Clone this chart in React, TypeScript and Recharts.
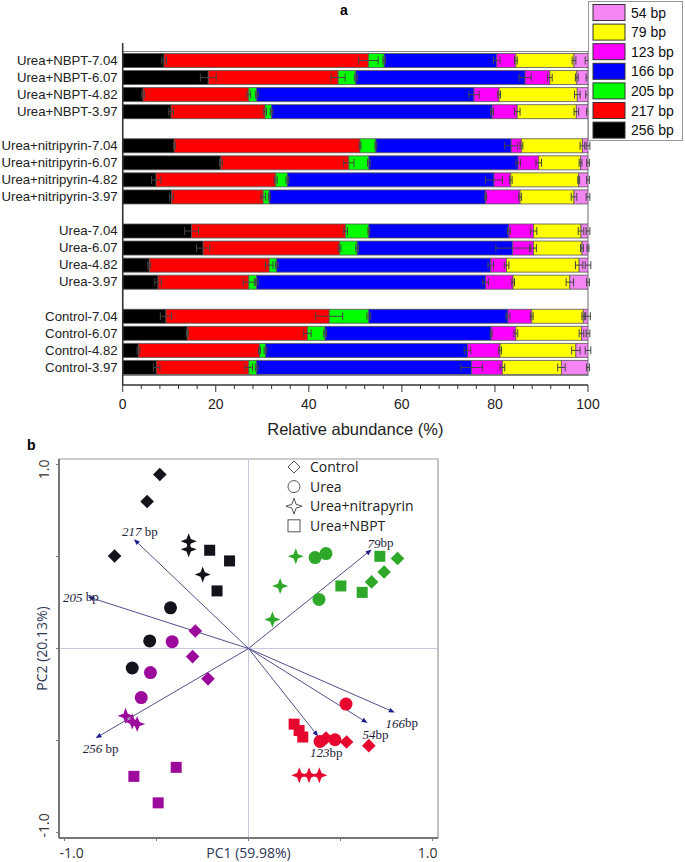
import React from 'react';
import {
  BarChart,
  Bar,
  XAxis,
  YAxis,
  ErrorBar,
  ReferenceArea,
  ReferenceLine,
  ScatterChart,
  Scatter,
} from 'recharts';

// ---------- panel a: relative abundance of T-RFs ----------
const rowLabels = [
  'Urea+NBPT-7.04', 'Urea+NBPT-6.07', 'Urea+NBPT-4.82', 'Urea+NBPT-3.97', ' ',
  'Urea+nitripyrin-7.04', 'Urea+nitripyrin-6.07', 'Urea+nitripyrin-4.82', 'Urea+nitripyrin-3.97', '  ',
  'Urea-7.04', 'Urea-6.07', 'Urea-4.82', 'Urea-3.97', '   ',
  'Control-7.04', 'Control-6.07', 'Control-4.82', 'Control-3.97',
];

const bp256 = [8.9, 18.4, 4.4, 10.4, null, 11.1, 21.1, 7.2, 10.5, null, 14.8, 17.3, 5.7, 7.6, null, 9.3, 13.9, 3.4, 7.3];
const bp217 = [43.9, 27.9, 22.7, 20.2, null, 39.9, 27.5, 25.7, 19.7, null, 33.1, 29.3, 25.8, 19.5, null, 35.1, 25.8, 26.0, 19.8];
const bp205 = [3.4, 3.8, 1.7, 1.4, null, 3.4, 4.3, 2.5, 1.3, null, 5.0, 3.8, 1.6, 1.7, null, 8.5, 3.8, 1.3, 1.7];
const bp166 = [24.2, 36.4, 46.7, 47.4, null, 29.1, 32.1, 44.4, 46.5, null, 30.1, 33.4, 46.0, 49.2, null, 29.9, 35.7, 43.4, 46.2];
const bp123 = [4.1, 5.3, 5.4, 5.4, null, 2.2, 4.4, 3.6, 7.4, null, 5.3, 4.5, 3.4, 5.9, null, 5.1, 5.3, 7.0, 6.6];
const bp79 = [12.5, 5.8, 16.8, 12.7, null, 13.1, 9.0, 14.6, 11.6, null, 10.2, 10.4, 15.6, 12.2, null, 11.1, 14.1, 16.3, 12.7];
const bp54 = [3.0, 2.4, 2.3, 2.5, null, 1.2, 1.6, 2.0, 3.0, null, 1.5, 1.3, 1.9, 3.9, null, 1.0, 1.4, 2.6, 5.7];

// standard deviations
const sd256 = [0.5, 1.7, 0.3, 0.5, null, 0.2, 0.3, 1.0, 0.4, null, 1.5, 1.4, 0.3, 0.7, null, 1.2, 0.2, 0.3, 0.7];
const sd217 = [2.1, 1.5, 0.4, 0.3, null, 0.2, 1.1, 0.3, 0.5, null, 0.4, 0.3, 0.8, 1.2, null, 2.9, 0.8, 0.2, 0.8];
const sd205 = [0.3, 0.3, 0.3, 0.3, null, 0.2, 0.3, 0.3, 0.2, null, 0.2, 0.3, 0.3, 0.3, null, 0.4, 0.3, 0.3, 0.3];
const sd166 = [0.7, 1.3, 1.1, 0.3, null, 1.4, 0.5, 1.8, 0.2, null, 0.3, 3.6, 0.6, 0.6, null, 0.4, 0.2, 0.7, 2.3];
const sd123 = [0.3, 0.5, 0.3, 0.6, null, 0.3, 0.6, 0.3, 0.3, null, 0.7, 0.6, 0.5, 0.3, null, 0.3, 0.4, 0.3, 0.5];
const sd79 = [0.4, 0.3, 0.6, 0.5, null, 0.5, 0.3, 0.2, 0.6, null, 0.6, 0.3, 0.8, 0.8, null, 0.3, 0.5, 0.9, 0.8];
const sd54 = [0.6, 0.4, 0.5, 0.3, null, 0.4, 0.3, 0.3, 0.4, null, 0.4, 0.2, 0.6, 0.3, null, 0.5, 0.4, 0.6, 0.3];

const abundanceTicks = [0, 4, 8, 12, 16, 20, 24, 28, 32, 36, 40, 44, 48, 52, 56, 60, 64, 68, 72, 76, 80, 84, 88, 92, 96, 100];

// stack order, left to right
const fragments = [
  { key: '256', name: '256 bp', values: bp256, sd: sd256, colour: '#000000' },
  { key: '217', name: '217 bp', values: bp217, sd: sd217, colour: '#FF0000' },
  { key: '205', name: '205 bp', values: bp205, sd: sd205, colour: '#00FF00' },
  { key: '166', name: '166 bp', values: bp166, sd: sd166, colour: '#0000FF' },
  { key: '123', name: '123 bp', values: bp123, sd: sd123, colour: '#FF00FF' },
  { key: '79', name: '79 bp', values: bp79, sd: sd79, colour: '#FFFF00' },
  { key: '54', name: '54 bp', values: bp54, sd: sd54, colour: '#F585F5' },
];

const barData = rowLabels.map((name, i) => {
  const row: Record<string, any> = { name };
  fragments.forEach((f) => {
    if (f.values[i] != null) {
      row['v' + f.key] = f.values[i];
      row['e' + f.key] = f.sd[i];
    }
  });
  return row;
});

// ---------- panel b: PCA biplot ----------
const controlPts = [
  { pc1: -0.482, pc2: 0.946, ph: '7.04' }, { pc1: -0.551, pc2: 0.799, ph: '7.04' }, { pc1: -0.728, pc2: 0.503, ph: '7.04' },
  { pc1: -0.289, pc2: 0.095, ph: '6.07' }, { pc1: -0.304, pc2: -0.044, ph: '6.07' }, { pc1: -0.22, pc2: -0.165, ph: '6.07' },
  { pc1: 0.81, pc2: 0.489, ph: '4.82' }, { pc1: 0.737, pc2: 0.416, ph: '4.82' }, { pc1: 0.669, pc2: 0.362, ph: '4.82' },
  { pc1: 0.421, pc2: -0.487, ph: '3.97' }, { pc1: 0.533, pc2: -0.508, ph: '3.97' }, { pc1: 0.654, pc2: -0.528, ph: '3.97' },
];
const ureaPts = [
  { pc1: -0.424, pc2: 0.221, ph: '7.04' }, { pc1: -0.537, pc2: 0.041, ph: '7.04' }, { pc1: -0.632, pc2: -0.106, ph: '7.04' },
  { pc1: -0.415, pc2: 0.037, ph: '6.07' }, { pc1: -0.533, pc2: -0.131, ph: '6.07' }, { pc1: -0.583, pc2: -0.267, ph: '6.07' },
  { pc1: 0.362, pc2: 0.494, ph: '4.82' }, { pc1: 0.421, pc2: 0.516, ph: '4.82' }, { pc1: 0.383, pc2: 0.267, ph: '4.82' },
  { pc1: 0.53, pc2: -0.302, ph: '3.97' }, { pc1: 0.389, pc2: -0.505, ph: '3.97' }, { pc1: 0.47, pc2: -0.496, ph: '3.97' },
];
const nitrapyrinPts = [
  { pc1: -0.325, pc2: 0.583, ph: '7.04' }, { pc1: -0.325, pc2: 0.539, ph: '7.04' }, { pc1: -0.249, pc2: 0.402, ph: '7.04' },
  { pc1: -0.668, pc2: -0.366, ph: '6.07' }, { pc1: -0.632, pc2: -0.397, ph: '6.07' }, { pc1: -0.605, pc2: -0.411, ph: '6.07' },
  { pc1: 0.257, pc2: 0.501, ph: '4.82' }, { pc1: 0.172, pc2: 0.34, ph: '4.82' }, { pc1: 0.13, pc2: 0.158, ph: '4.82' },
  { pc1: 0.276, pc2: -0.689, ph: '3.97' }, { pc1: 0.329, pc2: -0.689, ph: '3.97' }, { pc1: 0.385, pc2: -0.689, ph: '3.97' },
];
const nbptPts = [
  { pc1: -0.211, pc2: 0.534, ph: '7.04' }, { pc1: -0.103, pc2: 0.476, ph: '7.04' }, { pc1: -0.171, pc2: 0.313, ph: '7.04' },
  { pc1: -0.623, pc2: -0.695, ph: '6.07' }, { pc1: -0.393, pc2: -0.646, ph: '6.07' }, { pc1: -0.491, pc2: -0.839, ph: '6.07' },
  { pc1: 0.714, pc2: 0.501, ph: '4.82' }, { pc1: 0.502, pc2: 0.34, ph: '4.82' }, { pc1: 0.618, pc2: 0.305, ph: '4.82' },
  { pc1: 0.248, pc2: -0.411, ph: '3.97' }, { pc1: 0.275, pc2: -0.446, ph: '3.97' }, { pc1: 0.295, pc2: -0.481, ph: '3.97' },
];

// loading vectors
const vectorTags = ['217', '205', '79', '256', '123', '54', '166'];
const vectorUnits = [' bp', ' bp', 'bp', ' bp', 'bp', 'bp', 'bp'];
const vectorPc1 = [-0.623, -0.873, 0.669, -0.831, 0.379, 0.647, 0.795];
const vectorPc2 = [0.594, 0.281, 0.538, -0.487, -0.478, -0.405, -0.348];
// label offsets (px) from arrow tip
const vectorLabelOffset = [[6, -8], [-7, 0], [9, -7], [5, 10], [8, 16], [8, 11], [7, 10]];

const pcTicks = [-1, -0.5, 0, 0.5, 1];

const phColour: Record<string, string> = {
  '7.04': '#13131c',
  '6.07': '#9b0a9b',
  '4.82': '#2fa82a',
  '3.97': '#e6062e',
};

const SANS_A = '"Liberation Sans", Arial, sans-serif';
const SANS_B = '"Open Sans", "Noto Sans", sans-serif';
const SERIF = '"Liberation Serif", "Times New Roman", serif';

function AbundanceTick(props: any) {
  const { x, y, payload } = props;
  const major = payload.value % 20 === 0;
  return (
    <g>
      <line x1={x} x2={x} y1={y} y2={y + (major ? 7 : 4)} stroke="#333" strokeWidth={1} />
      {major && (
        <text x={x} y={y + 24} textAnchor="middle" fontSize={14} fill="#222" fontFamily={SANS_A}>
          {payload.value}
        </text>
      )}
    </g>
  );
}

function diamond(cx: number, cy: number, r: number, fill: string) {
  return <polygon points={`${cx},${cy - r} ${cx + r},${cy} ${cx},${cy + r} ${cx - r},${cy}`} fill={fill} />;
}
function star4(cx: number, cy: number, r: number, inner: number, fill: string, stroke = 'none') {
  const p = [
    [cx, cy - r], [cx + inner, cy - inner], [cx + r, cy], [cx + inner, cy + inner],
    [cx, cy + r], [cx - inner, cy + inner], [cx - r, cy], [cx - inner, cy - inner],
  ];
  return <polygon points={p.map((q) => q.join(',')).join(' ')} fill={fill} stroke={stroke} />;
}

const DiamondDot = (p: any) => diamond(p.cx, p.cy, 6.8, phColour[p.payload.ph]);
const CircleDot = (p: any) => <circle cx={p.cx} cy={p.cy} r={6.5} fill={phColour[p.payload.ph]} />;
const StarDot = (p: any) => star4(p.cx, p.cy, 8, 2.2, phColour[p.payload.ph]);
const SquareDot = (p: any) => (
  <rect x={p.cx - 5.5} y={p.cy - 5.5} width={11} height={11} fill={phColour[p.payload.ph]} />
);

function VectorArrow(props: any) {
  const { x1, y1, x2, y2, tag, unit, dx, dy } = props;
  if (x1 == null || x2 == null) return null;
  const ang = Math.atan2(y2 - y1, x2 - x1);
  const len = 6;
  const half = 2.4;
  const bx = x2 - len * Math.cos(ang);
  const by = y2 - len * Math.sin(ang);
  const px = -Math.sin(ang) * half;
  const py = Math.cos(ang) * half;
  return (
    <g>
      <line x1={x1} y1={y1} x2={bx} y2={by} stroke="#50508c" strokeWidth={1} />
      <polygon points={`${x2},${y2} ${bx + px},${by + py} ${bx - px},${by - py}`} fill="#1c1c8c" />
      <text
        x={x2 + dx}
        y={y2 + dy}
        textAnchor="middle"
        dominantBaseline="central"
        fontFamily={SERIF}
        fontSize={13}
        fill="#22223a"
      >
        <tspan fontStyle="italic">{tag}</tspan>
        {unit}
      </text>
    </g>
  );
}

function PcXTick(props: any) {
  const { x, y, payload } = props;
  const v = payload.value;
  return (
    <g>
      <line x1={x} x2={x} y1={y} y2={y + 3} stroke="#777" />
      {v === -1 && (
        <text x={x - 5} y={y + 20} textAnchor="start" fontSize={14} fill="#333" fontFamily={SANS_B}>-1.0</text>
      )}
      {v === 1 && (
        <text x={x + 5} y={y + 20} textAnchor="end" fontSize={14} fill="#333" fontFamily={SANS_B}>1.0</text>
      )}
    </g>
  );
}

function PcYTick(props: any) {
  const { x, y, payload } = props;
  const v = payload.value;
  return (
    <g>
      <line x1={x - 3} x2={x} y1={y} y2={y} stroke="#777" />
      {v === 1 && (
        <text transform={`translate(${x - 10},${y - 5}) rotate(-90)`} textAnchor="end" fontSize={14} fill="#333" fontFamily={SANS_B}>1.0</text>
      )}
      {v === -1 && (
        <text transform={`translate(${x - 10},${y + 5}) rotate(-90)`} textAnchor="start" fontSize={14} fill="#333" fontFamily={SANS_B}>-1.0</text>
      )}
    </g>
  );
}

function PcYTitle(props: any) {
  const vb = props.viewBox;
  if (!vb) return null;
  const cx = vb.x + vb.width - 12;
  const cy = vb.y + vb.height / 2;
  return (
    <text transform={`translate(${cx},${cy}) rotate(-90)`} textAnchor="middle" fontSize={14} fill="#2e3656" fontFamily={SANS_B}>
      PC2 (20.13%)
    </text>
  );
}

function PcXTitle(props: any) {
  const vb = props.viewBox;
  if (!vb) return null;
  return (
    <text x={vb.x + vb.width / 2} y={vb.y + 20} textAnchor="middle" fontSize={14} fill="#2e3656" fontFamily={SANS_B}>
      PC1 (59.98%)
    </text>
  );
}

const treatments = [
  { name: 'Control', data: controlPts, shape: DiamondDot },
  { name: 'Urea', data: ureaPts, shape: CircleDot },
  { name: 'Urea+nitrapyrin', data: nitrapyrinPts, shape: StarDot },
  { name: 'Urea+NBPT', data: nbptPts, shape: SquareDot },
];

function LegendSymbol({ i }: { i: number }) {
  const s = '#555';
  if (i === 0) return <polygon points="8,2 14,8 8,14 2,8" fill="none" stroke={s} />;
  if (i === 1) return <circle cx={8} cy={8} r={6} fill="none" stroke={s} />;
  if (i === 2) return star4(8, 8, 8, 2, 'none', s);
  return <rect x={2} y={2} width={12} height={12} fill="none" stroke={s} />;
}

export default function App() {
  return (
    <div style={{ position: 'absolute', left: 0, top: 0, width: 685, height: 862, background: '#fff' }}>
      {/* panel letters */}
      <div style={{ position: 'absolute', left: 340, top: 2, fontFamily: SANS_A, fontWeight: 'bold', fontSize: 14 }}>a</div>
      <div style={{ position: 'absolute', left: 27, top: 437, fontFamily: SANS_A, fontWeight: 'bold', fontSize: 14 }}>b</div>

      {/* panel a */}
      <div style={{ position: 'absolute', left: 0, top: 0 }}>
        <BarChart
          width={685}
          height={440}
          data={barData}
          layout="vertical"
          margin={{ top: 43, right: 97, bottom: 7, left: 0 }}
          barSize={14}
        >
          <XAxis
            type="number"
            domain={[0, 100]}
            ticks={abundanceTicks}
            interval={0}
            tickSize={0}
            tickMargin={0}
            tickLine={false}
            tick={<AbundanceTick />}
            height={48}
            axisLine={{ stroke: '#333', strokeWidth: 1.5 }}
            allowDataOverflow
            label={{
              value: 'Relative abundance (%)',
              position: 'insideBottom',
              offset: -2,
              fontSize: 16.5,
              fill: '#222',
              fontFamily: SANS_A,
            }}
          />
          <YAxis
            type="category"
            dataKey="name"
            width={122.7}
            interval={0}
            padding={{ top: 8.5, bottom: 9.5 }}
            tickLine={false}
            tickSize={3}
            tickMargin={2}
            axisLine={{ stroke: '#333', strokeWidth: 1.5 }}
            tick={{ fontSize: 13.2, fill: '#222', fontFamily: SANS_A }}
          />
          <ReferenceArea x1={0} x2={100} fill="none" stroke="#888" strokeWidth={1.2} ifOverflow="visible" />
          {fragments.map((f) => (
            <Bar
              key={f.key}
              dataKey={'v' + f.key}
              name={f.name}
              stackId="s"
              fill={f.colour}
              stroke="#555"
              strokeWidth={0.8}
              isAnimationActive={false}
            >
              <ErrorBar dataKey={'e' + f.key} direction="x" width={4} stroke="#444" strokeWidth={1} />
            </Bar>
          ))}
        </BarChart>
      </div>

      {/* panel a legend */}
      <svg style={{ position: 'absolute', left: 588, top: 0 }} width={97} height={142}>
        <rect x={0.5} y={1.5} width={94} height={139} fill="#fff" stroke="#999" />
        {[...fragments].reverse().map((f, i) => (
          <g key={f.key}>
            <rect x={5} y={4.5 + i * 19.6} width={32} height={16} fill={f.colour} stroke="#333" />
            <text x={43} y={17.5 + i * 19.6} fontSize={14} fill="#111" fontFamily={SANS_A}>{f.name}</text>
          </g>
        ))}
      </svg>

      {/* panel b */}
      <div style={{ position: 'absolute', left: 0, top: 440 }}>
        <ScatterChart width={685} height={422} margin={{ top: 19, right: 247, bottom: 0, left: 0 }}>
          <XAxis
            type="number"
            dataKey="pc1"
            domain={[-1.03, 1.03]}
            ticks={pcTicks}
            interval={0}
            tickSize={0}
            tickMargin={0}
            tickLine={false}
            tick={<PcXTick />}
            height={24}
            axisLine={{ stroke: '#777', strokeWidth: 2 }}
            allowDataOverflow
            label={<PcXTitle />}
          />
          <YAxis
            type="number"
            dataKey="pc2"
            domain={[-1.03, 1.03]}
            ticks={pcTicks}
            interval={0}
            tickSize={0}
            tickMargin={0}
            tickLine={false}
            tick={<PcYTick />}
            width={59}
            axisLine={{ stroke: '#777', strokeWidth: 2 }}
            allowDataOverflow
            label={<PcYTitle />}
          />
          <ReferenceArea x1={-1.03} x2={1.03} y1={-1.03} y2={1.03} fill="none" stroke="#999" strokeWidth={1.2} />
          <ReferenceLine x={0} stroke="#c9c9e2" strokeWidth={1} />
          <ReferenceLine y={0} stroke="#c9c9e2" strokeWidth={1} />
          {vectorTags.map((tag, i) => (
            <ReferenceLine
              key={tag}
              segment={[{ x: 0, y: 0 }, { x: vectorPc1[i], y: vectorPc2[i] }]}
              shape={(p: any) => (
                <VectorArrow
                  {...p}
                  tag={tag}
                  unit={vectorUnits[i]}
                  dx={vectorLabelOffset[i][0]}
                  dy={vectorLabelOffset[i][1]}
                />
              )}
            />
          ))}
          {treatments.map((t) => (
            <Scatter key={t.name} name={t.name} data={t.data} shape={t.shape} isAnimationActive={false} />
          ))}
        </ScatterChart>
      </div>

      {/* panel b legend */}
      <svg style={{ position: 'absolute', left: 284, top: 456 }} width={160} height={80}>
        {treatments.map((t, i) => (
          <g key={t.name}>
            <g transform={`translate(2,${3 + i * 19.6})`}>
              <LegendSymbol i={i} />
            </g>
            <text x={26} y={16 + i * 19.6} fontSize={14} fill="#222" fontFamily={SANS_B}>{t.name}</text>
          </g>
        ))}
      </svg>
    </div>
  );
}
